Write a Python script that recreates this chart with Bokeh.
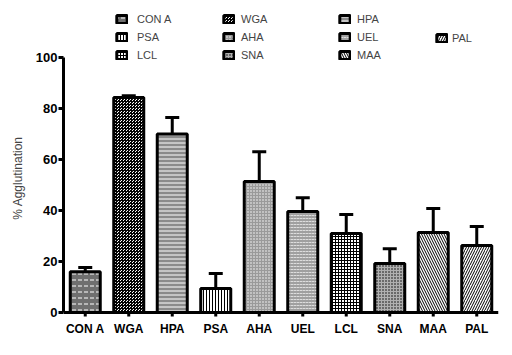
import math
from bokeh.plotting import figure
from bokeh.models import (FactorRange, Range1d, Legend, LegendItem, Whisker,
                          ColumnDataSource, TeeHead, FixedTicker, Span)
from bokeh.core.properties import value
from bokeh.embed import file_html
from bokeh.resources import INLINE

cats = ["CON A", "WGA", "HPA", "PSA", "AHA", "UEL", "LCL", "SNA", "MAA", "PAL"]
means = [16.0, 84.3, 70.0, 9.4, 51.4, 39.6, 31.0, 19.2, 31.4, 26.3]
errs = [1.6, 0.7, 6.5, 5.9, 11.6, 5.4, 7.4, 5.8, 9.4, 7.4]
y_ticks = [0, 20, 40, 60, 80, 100]

styles = {
    "CON A": dict(fill_color="#6f6f6f", hatch_pattern="horizontal_dash", hatch_color="white", hatch_scale=6),
    "WGA": dict(fill_color="white", hatch_pattern="criss_cross", hatch_color="black", hatch_scale=3),
    "HPA": dict(fill_color="#8a8a8a", hatch_pattern="horizontal_line", hatch_color="white", hatch_scale=4),
    "PSA": dict(fill_color="white", hatch_pattern="vertical_line", hatch_color="black", hatch_scale=3),
    "AHA": dict(fill_color="#9a9a9a", hatch_pattern="dot", hatch_color="white", hatch_scale=3),
    "UEL": dict(fill_color="#a0a0a0", hatch_pattern="horizontal_dash", hatch_color="#dddddd", hatch_scale=3),
    "LCL": dict(fill_color="white", hatch_pattern="cross", hatch_color="black", hatch_scale=3),
    "SNA": dict(fill_color="#b0b0b0", hatch_pattern="dot", hatch_color="black", hatch_scale=3),
    "MAA": dict(fill_color="white", hatch_pattern="left_diagonal_line", hatch_color="black", hatch_scale=5),
    "PAL": dict(fill_color="white", hatch_pattern="right_diagonal_line", hatch_color="black", hatch_scale=5),
}

PX = 2.55  # pixels per % unit
p = figure(width=512, height=355, output_backend="svg", toolbar_location=None,
           x_range=FactorRange(factors=cats, range_padding=0),
           y_range=Range1d(-43 / PX, 312 / PX),
           min_border_left=63, min_border_right=14, min_border_top=0, min_border_bottom=0)
p.outline_line_color = None
p.xgrid.visible = False
p.ygrid.visible = False
p.xaxis.visible = False
p.background_fill_color = "white"
p.border_fill_color = "white"

font = "Liberation Sans"

src = ColumnDataSource(dict(x=cats, lower=means, upper=[m + e for m, e in zip(means, errs)]))
wh = Whisker(base="x", lower="lower", upper="upper", source=src, line_width=3, line_color="black",
             upper_head=TeeHead(size=14, line_width=3, line_color="black"), lower_head=None)
p.add_layout(wh)

renderers = {}
for c, m in zip(cats, means):
    r = p.vbar(x=[c], top=[m], bottom=0, width=0.69, line_color="black", line_width=3, **styles[c])
    renderers[c] = r

# x axis at y = 0: line, ticks and category labels
p.add_layout(Span(location=0, dimension="width", line_color="black", line_width=3))
p.segment(x0=cats, y0=[0] * len(cats), x1=cats, y1=[-4 / PX] * len(cats),
          line_color="black", line_width=3)
p.text(x=cats, y=[0] * len(cats), text=cats, y_offset=9,
       text_align="center", text_baseline="top",
       text_font=value(font), text_font_style="bold", text_font_size="12px", text_color="black")

yax = p.yaxis[0]
yax.ticker = FixedTicker(ticks=y_ticks)
yax.bounds = (0, 100)
yax.axis_line_width = 3
yax.major_tick_line_width = 3
yax.major_tick_in = 0
yax.major_tick_out = 5
yax.minor_tick_line_color = None
yax.major_label_standoff = 1
yax.major_label_text_font = font
yax.major_label_text_font_style = "bold"
yax.major_label_text_color = "black"
yax.major_label_text_font_size = "13px"
yax.axis_label = "% Agglutination"
yax.axis_label_text_font = font
yax.axis_label_text_font_style = "normal"
yax.axis_label_text_font_size = "12px"
yax.axis_label_standoff = 8

groups = [
    (["CON A", "PSA", "LCL"], 52, 293, 9),
    (["WGA", "AHA", "SNA"], 159, 293, 6),
    (["HPA", "UEL", "MAA"], 275, 293, 6),
    (["PAL"], 372, 310, 4),
]
for names, lx, ly, st in groups:
    lg = Legend(items=[LegendItem(label=n, renderers=[renderers[n]]) for n in names],
                location=(lx, ly), orientation="vertical",
                background_fill_alpha=0, border_line_alpha=0,
                padding=0, margin=0, spacing=4,
                glyph_width=13, glyph_height=10, label_height=14, label_standoff=st,
                label_text_font=font, label_text_font_size="11px")
    p.add_layout(lg, "center")

open("out.html", "w").write(file_html(p, INLINE))
